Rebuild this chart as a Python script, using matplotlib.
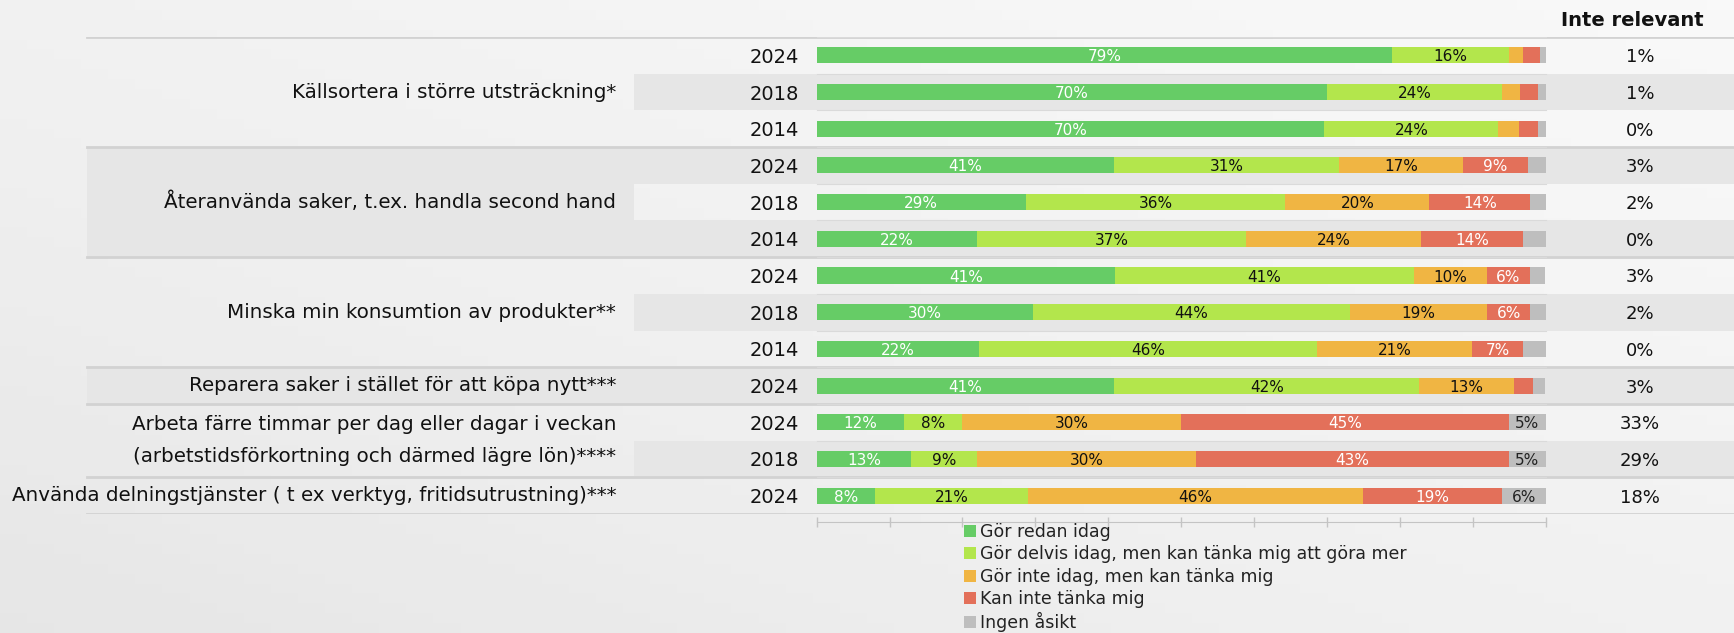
import matplotlib
matplotlib.use('Agg')
import matplotlib.pyplot as plt
from matplotlib.patches import Patch
import numpy as np

W, H = 1734, 633

## Data
items = [
    'Källsortera i större utsträckning*',
    'Återanvända saker, t.ex. handla second hand',
    'Minska min konsumtion av produkter**',
    'Reparera saker i stället för att köpa nytt***',
    'Arbeta färre timmar per dag eller dagar i veckan\n(arbetstidsförkortning och därmed lägre lön)****',
    'Använda delningstjänster ( t ex verktyg, fritidsutrustning)***',
]
group_sizes = [3, 3, 3, 1, 2, 1]
years = ['2024', '2018', '2014', '2024', '2018', '2014', '2024', '2018', '2014',
         '2024', '2024', '2018', '2024']

gor_redan = [79, 70, 70, 41, 29, 22, 41, 30, 22, 41, 12, 13, 8]
gor_delvis = [16, 24, 24, 31, 36, 37, 41, 44, 46, 42, 8, 9, 21]
gor_inte = [1.9, 2.4, 2.9, 17, 20, 24, 10, 19, 21, 13, 30, 30, 46]
kan_inte = [2.3, 2.5, 2.6, 9, 14, 14, 6, 6, 7, 2.7, 45, 43, 19]
ingen_asikt = [0.8, 1.0, 1.0, 2.4, 2.1, 3.1, 2.1, 2.1, 3.0, 1.7, 5, 5, 6]
inte_relevant = [1, 1, 0, 3, 2, 0, 3, 2, 0, 3, 33, 29, 18]

legend_labels = ['Gör redan idag',
                 'Gör delvis idag, men kan tänka mig att göra mer',
                 'Gör inte idag, men kan tänka mig',
                 'Kan inte tänka mig',
                 'Ingen åsikt']

series = [gor_redan, gor_delvis, gor_inte, kan_inte, ingen_asikt]
colors = ['#66CC66', '#B3E64C', '#F0B543', '#E3705A', '#BEBEBE']
text_colors = ['white', '#111111', '#111111', 'white', '#222222']

plt.rcParams['font.family'] = ['DejaVu Sans']

fig = plt.figure(figsize=(W / 100, H / 100), dpi=100, facecolor='#EFEFEF')

# soft gradient behind everything
grad = fig.add_axes([0, 0, 1, 1], zorder=-10)
gx, gy = np.meshgrid(np.linspace(0, 1, 64), np.linspace(0, 1, 64))
grad.imshow(0.5 * gx + 0.5 * (1 - gy), cmap='Greys_r', vmin=-6.5, vmax=1.4,
            aspect='auto', extent=[0, 1, 0, 1], origin='upper')
grad.axis('off')

n = len(years)
rows = np.arange(n)
top, bottom = 1 - 37 / H, 1 - 514 / H

# background axes over full width, y in row units
bg = fig.add_axes([0, bottom, 1, top - bottom], zorder=0)
bg.set_xlim(0, 1)
bg.set_ylim(n - 0.5, -0.5)
bg.axis('off')

x_lab, x_band, x_bar0, x_bar1 = 87 / W, 634 / W, 816.7 / W, 1545.5 / W
band_dark = '#E6E6E6'

# alternating row shading (year + bar + right column)
for i in rows:
    if i % 2 == 1:
        bg.axhspan(i - 0.5, i + 0.5, xmin=x_band, xmax=1, color=band_dark, lw=0, zorder=0)

# group shading in label area + group lines
starts = np.concatenate([[0], np.cumsum(group_sizes)])
for g, (s, size) in enumerate(zip(starts[:-1], group_sizes)):
    if g in (1, 3):
        bg.axhspan(s - 0.5, s + size - 0.5, xmin=x_lab, xmax=x_band, color=band_dark, lw=0, zorder=0)
    center = s + (size - 1) / 2
    bg.text(616 / W, center, items[g], ha='right', va='center', fontsize=14.3,
            linespacing=1.85, color='#111111')
for b in starts:
    bg.axhline(b - 0.5, xmin=x_lab, xmax=1, color='#D2D2D2', lw=2, zorder=1)
for i in range(n + 1):
    bg.axhline(i - 0.5, xmin=x_bar0, xmax=x_bar1, color='#DADADA', lw=0.8, zorder=1)

# years and "Inte relevant" column
for i in rows:
    bg.text(799 / W, i, years[i], ha='right', va='center_baseline', fontsize=14, color='#111111')
    bg.text(1640 / W, i, f'{inte_relevant[i]}%', ha='center', va='center_baseline',
            fontsize=13, color='#111111')
fig.text(1632.5 / W, 1 - 20 / H, 'Inte relevant', ha='center', va='center',
         fontsize=14, fontweight='bold', color='#111111')

# stacked bars
ax = fig.add_axes([x_bar0, bottom, x_bar1 - x_bar0, top - bottom], zorder=2)
ax.set_facecolor('none')
totals = np.sum(series, axis=0)
left = np.zeros(n)
for vals, c, tc in zip(series, colors, text_colors):
    vals = np.array(vals, dtype=float)
    widths = vals / totals * 100
    ax.barh(rows, widths, left=left, height=0.44, color=c, lw=0)
    for i in rows:
        if vals[i] >= 5:
            ax.text(left[i] + widths[i] / 2, i, f'{vals[i]:.0f}%', ha='center',
                    va='center_baseline', fontsize=11, color=tc)
    left += widths

ax.set_xlim(0, 100)
ax.set_ylim(n - 0.5, -0.5)
ax.set_xticks(range(0, 101, 10))
ax.set_xticklabels([])
ax.set_yticks([])
ax.tick_params(axis='x', length=7.2, direction='inout', color='#C4C4C4', width=1)
for s in ['top', 'left', 'right']:
    ax.spines[s].set_visible(False)
ax.spines['bottom'].set_position(('outward', 5.8))
ax.spines['bottom'].set_color('#C4C4C4')

handles = [Patch(facecolor=c, edgecolor='none') for c in colors]
fig.legend(handles, legend_labels, loc='upper left', bbox_to_anchor=(964 / W, 1 - 523 / H),
           frameon=False, fontsize=12.5, handlelength=0.7, handleheight=0.7,
           handletextpad=0.2, labelspacing=0.25, borderpad=0, borderaxespad=0,
           labelcolor='#222222')

fig.savefig('out.png', dpi=100, facecolor=fig.get_facecolor())
